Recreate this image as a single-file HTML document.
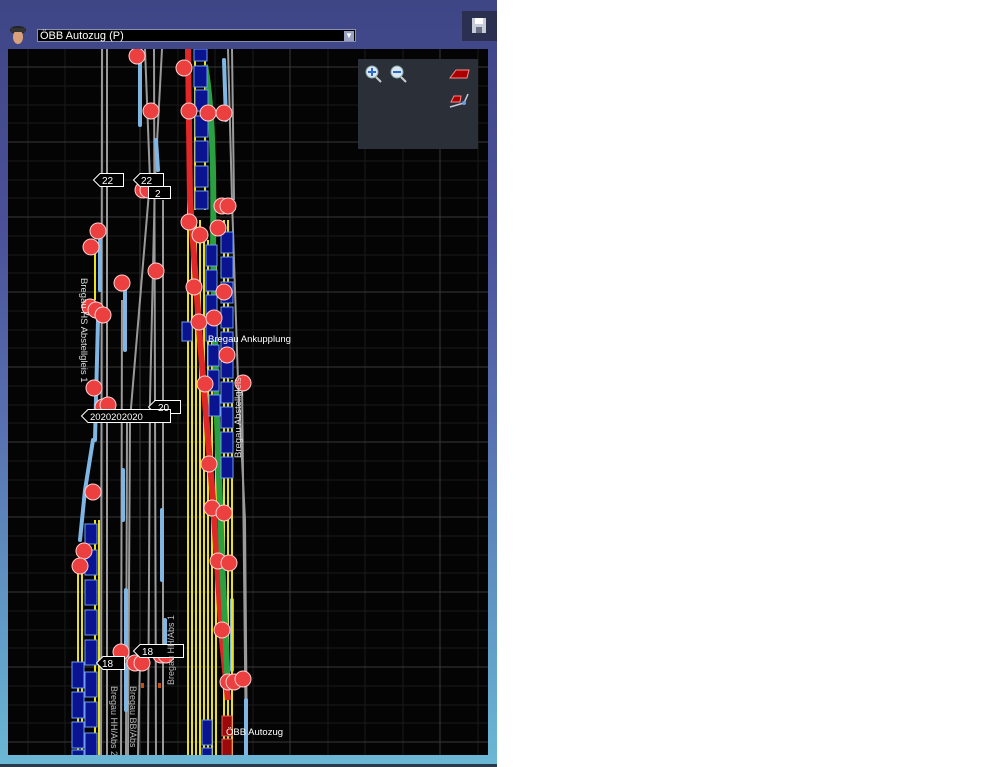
<!DOCTYPE html>
<html><head><meta charset="utf-8"><style>
html,body{margin:0;padding:0;background:#fff;}
body{width:981px;height:767px;position:relative;overflow:hidden;font-family:"Liberation Sans",sans-serif;}
#panel{position:absolute;left:0;top:0;width:497px;height:767px;background:linear-gradient(to bottom,#3e4686 0%,#4a5198 30%,#5870b0 55%,#62a0c8 85%,#6cb8d4 100%);}
#bot{position:absolute;left:0;top:764px;width:497px;height:3px;background:#2a3a4a;}
#sel{position:absolute;left:37px;top:29px;width:319px;height:13px;background:#000;border:1px solid #8890b0;color:#fff;font-size:11px;line-height:13px;padding-left:2px;box-sizing:border-box;}
#arr{position:absolute;right:1px;top:1px;width:10px;height:10px;background:#9aa0c0;color:#fff;font-size:8px;line-height:10px;text-align:center;}
#save{position:absolute;left:462px;top:11px;width:35px;height:30px;background:#2b3050;}
</style></head><body>
<div id="panel"></div>
<div id="bot"></div>
<svg style="position:absolute;left:8px;top:24px" width="20" height="22"><ellipse cx="10" cy="6" rx="8" ry="4" fill="#222"/><ellipse cx="10" cy="13" rx="5" ry="7" fill="#d9a07a"/><rect x="3" y="4" width="14" height="4" fill="#333"/></svg>
<div id="sel">ÖBB Autozug (P)<div id="arr">▼</div></div>
<div id="save"><svg width="35" height="30"><rect x="10" y="7" width="14" height="15" fill="#c8ccd8"/><rect x="13" y="7" width="8" height="6" fill="#fff"/><rect x="14" y="16" width="6" height="6" fill="#6a6f86"/></svg></div>
<svg style="position:absolute;left:0;top:0" width="497" height="767">
<defs><clipPath id="c"><rect x="8" y="49" width="480" height="706"/></clipPath></defs>
<rect x="8" y="49" width="480" height="706" fill="#040404"/>
<g clip-path="url(#c)" stroke-width="1">
<g stroke="#1a1a1a">
<line x1="8" y1="86" x2="488" y2="86"/><line x1="8" y1="105" x2="488" y2="105"/><line x1="8" y1="123" x2="488" y2="123"/><line x1="8" y1="161" x2="488" y2="161"/><line x1="8" y1="180" x2="488" y2="180"/><line x1="8" y1="198" x2="488" y2="198"/><line x1="8" y1="236" x2="488" y2="236"/><line x1="8" y1="255" x2="488" y2="255"/><line x1="8" y1="273" x2="488" y2="273"/><line x1="8" y1="311" x2="488" y2="311"/><line x1="8" y1="330" x2="488" y2="330"/><line x1="8" y1="348" x2="488" y2="348"/><line x1="8" y1="386" x2="488" y2="386"/><line x1="8" y1="405" x2="488" y2="405"/><line x1="8" y1="423" x2="488" y2="423"/><line x1="8" y1="461" x2="488" y2="461"/><line x1="8" y1="480" x2="488" y2="480"/><line x1="8" y1="498" x2="488" y2="498"/><line x1="8" y1="536" x2="488" y2="536"/><line x1="8" y1="555" x2="488" y2="555"/><line x1="8" y1="573" x2="488" y2="573"/><line x1="8" y1="611" x2="488" y2="611"/><line x1="8" y1="630" x2="488" y2="630"/><line x1="8" y1="648" x2="488" y2="648"/><line x1="8" y1="686" x2="488" y2="686"/><line x1="8" y1="705" x2="488" y2="705"/><line x1="8" y1="723" x2="488" y2="723"/>
<line x1="28" y1="49" x2="28" y2="755"/><line x1="65" y1="49" x2="65" y2="755"/><line x1="103" y1="49" x2="103" y2="755"/><line x1="178" y1="49" x2="178" y2="755"/><line x1="215" y1="49" x2="215" y2="755"/><line x1="253" y1="49" x2="253" y2="755"/><line x1="328" y1="49" x2="328" y2="755"/><line x1="365" y1="49" x2="365" y2="755"/><line x1="403" y1="49" x2="403" y2="755"/><line x1="478" y1="49" x2="478" y2="755"/>
</g>
<g stroke="#383838">
<line x1="8" y1="67" x2="488" y2="67"/><line x1="8" y1="142" x2="488" y2="142"/><line x1="8" y1="217" x2="488" y2="217"/><line x1="8" y1="292" x2="488" y2="292"/><line x1="8" y1="367" x2="488" y2="367"/><line x1="8" y1="442" x2="488" y2="442"/><line x1="8" y1="517" x2="488" y2="517"/><line x1="8" y1="592" x2="488" y2="592"/><line x1="8" y1="667" x2="488" y2="667"/><line x1="8" y1="742" x2="488" y2="742"/>
<line x1="140" y1="49" x2="140" y2="755"/><line x1="290" y1="49" x2="290" y2="755"/><line x1="440" y1="49" x2="440" y2="755"/>
</g>
<g stroke="#9a9a9a" stroke-width="2" fill="none">
<line x1="102" y1="49" x2="101" y2="755"/><line x1="107" y1="49" x2="107" y2="755"/>
<line x1="122" y1="300" x2="121" y2="755"/><line x1="127" y1="420" x2="126" y2="755"/>
<path d="M145 49 L150 180 L140 300 L130 420 L128 755"/>
<path d="M162 49 L155 180 L150 400 L148 755"/>
<line x1="154" y1="49" x2="156" y2="755"/><line x1="163" y1="200" x2="163" y2="755"/>
<path d="M140 660 L138 755"/>
<path d="M228 49 L232 200 L238 380 L245 520 L247 755"/>
<path d="M232 49 L234 200"/>
<path d="M242 380 L246 755"/>
</g>
<g stroke="#7fb6e4" stroke-width="4" stroke-linecap="round" fill="none">
<line x1="140" y1="60" x2="140" y2="125"/><line x1="156" y1="140" x2="158" y2="170"/>
<line x1="100" y1="240" x2="100" y2="290"/><line x1="125" y1="285" x2="125" y2="350"/>
<line x1="123" y1="470" x2="123" y2="520"/><line x1="98" y1="320" x2="95" y2="440"/>
<path d="M93 440 L85 490 L80 540"/>
<line x1="162" y1="510" x2="162" y2="580"/><line x1="126" y1="590" x2="126" y2="650"/>
<line x1="165" y1="620" x2="165" y2="650"/><line x1="126" y1="665" x2="126" y2="710"/>
<line x1="246" y1="700" x2="246" y2="755"/><line x1="232" y1="600" x2="232" y2="670"/>
<line x1="224" y1="60" x2="226" y2="120"/>
</g>
<g stroke="#e8e020" stroke-width="2">
<line x1="188" y1="200" x2="188" y2="755"/><line x1="192" y1="200" x2="192" y2="755"/><line x1="196" y1="220" x2="196" y2="755"/><line x1="200" y1="220" x2="200" y2="755"/><line x1="204" y1="240" x2="204" y2="755"/><line x1="208" y1="240" x2="208" y2="755"/><line x1="212" y1="260" x2="212" y2="755"/><line x1="216" y1="260" x2="216" y2="755"/>
<line x1="224" y1="220" x2="224" y2="755"/><line x1="228" y1="220" x2="228" y2="755"/><line x1="232" y1="380" x2="232" y2="755"/>
<line x1="205" y1="49" x2="205" y2="210"/><line x1="195" y1="49" x2="195" y2="210"/>
<line x1="78" y1="560" x2="78" y2="755"/><line x1="82" y1="560" x2="82" y2="755"/><line x1="95" y1="240" x2="95" y2="300"/><line x1="95" y1="520" x2="95" y2="755"/><line x1="99" y1="520" x2="99" y2="755"/>
</g>
<path d="M188 49 L190 200 L200 340 L213 500 L222 640 L228 700" stroke="#e02828" stroke-width="6" fill="none"/>
<path d="M205 65 Q215 120 213 250 L217 420 L222 560 L228 690" stroke="#2aa040" stroke-width="6" fill="none"/>
<g fill="#0a1490" stroke="#6e9cf0" stroke-width="1">
<rect x="194" y="49" width="13" height="12"/><rect x="194" y="66" width="13" height="21"/><rect x="195" y="90" width="13" height="21"/><rect x="195" y="116" width="13" height="21"/><rect x="195" y="141" width="13" height="21"/><rect x="195" y="166" width="13" height="21"/><rect x="195" y="191" width="13" height="18"/>
<rect x="221" y="232" width="12" height="21"/><rect x="221" y="257" width="12" height="21"/><rect x="221" y="282" width="12" height="21"/><rect x="221" y="307" width="12" height="21"/><rect x="221" y="332" width="12" height="21"/><rect x="221" y="357" width="12" height="21"/><rect x="221" y="382" width="12" height="21"/><rect x="221" y="407" width="12" height="21"/><rect x="221" y="432" width="12" height="21"/><rect x="221" y="457" width="12" height="21"/>
<rect x="206" y="245" width="11" height="21"/><rect x="206" y="270" width="11" height="21"/><rect x="206" y="295" width="11" height="21"/><rect x="206" y="320" width="11" height="21"/><rect x="208" y="345" width="11" height="21"/><rect x="208" y="370" width="11" height="21"/><rect x="209" y="395" width="11" height="21"/>
<rect x="85" y="524" width="12" height="20"/><rect x="85" y="550" width="12" height="25"/><rect x="85" y="580" width="12" height="25"/><rect x="85" y="610" width="12" height="25"/><rect x="85" y="640" width="12" height="25"/><rect x="85" y="672" width="12" height="25"/><rect x="85" y="702" width="12" height="25"/><rect x="85" y="733" width="12" height="25"/>
<rect x="72" y="662" width="12" height="26"/><rect x="72" y="692" width="12" height="26"/><rect x="72" y="722" width="12" height="26"/><rect x="72" y="750" width="12" height="10"/>
<rect x="182" y="322" width="10" height="19"/><rect x="202" y="720" width="10" height="25"/><rect x="202" y="748" width="10" height="10"/>
</g>
<g fill="#9a0a0a" stroke="#e06060"><rect x="222" y="716" width="10" height="20"/><rect x="222" y="739" width="10" height="20"/></g>
<g fill="#ec4040" stroke="#ffd0d0" stroke-width="1">
<circle cx="137" cy="56" r="8"/><circle cx="184" cy="68" r="8"/><circle cx="151" cy="111" r="8"/><circle cx="224" cy="113" r="8"/><circle cx="189" cy="111" r="8"/><circle cx="208" cy="113" r="8"/>
<circle cx="143" cy="190" r="8"/><circle cx="148" cy="190" r="8"/><circle cx="222" cy="206" r="8"/><circle cx="228" cy="206" r="8"/><circle cx="98" cy="231" r="8"/><circle cx="91" cy="247" r="8"/><circle cx="189" cy="222" r="8"/><circle cx="200" cy="235" r="8"/><circle cx="218" cy="228" r="8"/>
<circle cx="156" cy="271" r="8"/><circle cx="122" cy="283" r="8"/><circle cx="194" cy="287" r="8"/><circle cx="224" cy="292" r="8"/><circle cx="90" cy="307" r="8"/><circle cx="96" cy="310" r="8"/><circle cx="103" cy="315" r="8"/><circle cx="199" cy="322" r="8"/><circle cx="214" cy="318" r="8"/>
<circle cx="94" cy="388" r="8"/><circle cx="205" cy="384" r="8"/><circle cx="243" cy="383" r="8"/><circle cx="227" cy="355" r="8"/><circle cx="103" cy="407" r="8"/><circle cx="108" cy="405" r="8"/><circle cx="209" cy="464" r="8"/><circle cx="93" cy="492" r="8"/><circle cx="212" cy="508" r="8"/><circle cx="224" cy="513" r="8"/>
<circle cx="84" cy="551" r="8"/><circle cx="80" cy="566" r="8"/><circle cx="218" cy="561" r="8"/><circle cx="229" cy="563" r="8"/><circle cx="222" cy="630" r="8"/><circle cx="121" cy="652" r="8"/><circle cx="135" cy="663" r="8"/><circle cx="142" cy="663" r="8"/><circle cx="161" cy="655" r="8"/><circle cx="166" cy="655" r="8"/><circle cx="228" cy="682" r="8"/><circle cx="234" cy="682" r="8"/><circle cx="243" cy="679" r="8"/>
</g>
<g fill="#000" stroke="#fff" stroke-width="1">
<path d="M93.5 180 L100 173.5 H123.5 V186.5 H100 Z"/><path d="M133.5 180 L140 173.5 H163.5 V186.5 H140 Z"/><rect x="148.5" y="186.5" width="22" height="12"/>
<path d="M148.5 407 L155 400.5 H180.5 V413.5 H155 Z"/>
<path d="M81.5 416 L88 409.5 H170.5 V422.5 H88 Z"/>
<path d="M133.5 651 L140 644.5 H183.5 V657.5 H140 Z"/><path d="M96.5 663 L103 656.5 H124.5 V669.5 H103 Z"/>
</g>
<g fill="#fff" font-size="10" font-family="Liberation Sans,sans-serif">
<text x="102" y="184">22</text><text x="141" y="184">22</text><text x="155" y="197">2</text>
<text x="158" y="411">20</text><text x="90" y="420" font-size="9.5">2020202020</text>
<text x="142" y="655">18</text><text x="102" y="667">18</text>
<text x="208" y="342" font-size="9.5">Bregau Ankupplung</text>
<text x="226" y="735" font-size="9.5">ÖBB Autozug</text>
<text transform="translate(81,278) rotate(90)" font-size="9.5" fill="#ddd">Bregau HS Abstellgleis 1</text>
<text transform="translate(241,458) rotate(-90)" font-size="9.5" fill="#ddd">Bregau Abstellgleis</text>
<text transform="translate(174,685) rotate(-90)" font-size="9" fill="#bbb">Bregau HH/Abs 1</text>
<text transform="translate(111,686) rotate(90)" font-size="9" fill="#bbb">Bregau HH/Abs 2</text>
<text transform="translate(130,686) rotate(90)" font-size="9" fill="#bbb">Bregau BB/Abs</text>
</g>
<g fill="#c05010"><rect x="141" y="683" width="3" height="5"/><rect x="158" y="683" width="3" height="5"/></g>
<rect x="358" y="59" width="120" height="90" fill="#2a2f38"/>
<g>
<circle cx="372" cy="72" r="6" fill="#dde6f4" stroke="#8aa" /><rect x="368" y="71" width="8" height="2" fill="#2a6ac8"/><rect x="371" y="68" width="2" height="8" fill="#2a6ac8"/><line x1="376" y1="77" x2="381" y2="82" stroke="#ccc" stroke-width="2"/>
<circle cx="397" cy="72" r="6" fill="#dde6f4" stroke="#8aa"/><rect x="393" y="71" width="8" height="2" fill="#2a6ac8"/><line x1="401" y1="77" x2="406" y2="82" stroke="#ccc" stroke-width="2"/>
<path d="M450 78 L456 70 H469 L467 78 Z" fill="#a00" stroke="#f88"/>
<path d="M451 102 L454 96 H461 L460 102 Z" fill="#a00" stroke="#f88"/>
<path d="M450 107 L464 103 L468 94" stroke="#ccd" stroke-width="1.5" fill="none"/><circle cx="464" cy="103" r="2" fill="#6aa0e0"/>
</g>
</g>
<rect x="8" y="755" width="480" height="9" fill="#6ab6d4"/>
</svg>
</body></html>
